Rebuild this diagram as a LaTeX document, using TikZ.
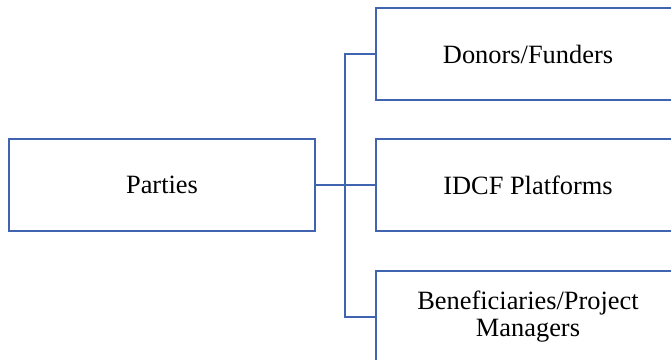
\documentclass[tikz,border=0pt]{standalone}
\usepackage{fontspec}
\setmainfont{Liberation Serif}
\definecolor{boxblue}{RGB}{64,100,176}
\begin{document}
\begin{tikzpicture}[x=1pt,y=-1pt,
  box/.style={draw=boxblue,line width=2.2pt,minimum width=304pt,minimum height=92pt,
    inner sep=0pt,align=center,font=\fontsize{26.4}{27}\selectfont,text=black},
  conn/.style={draw=boxblue,line width=2.2pt}]
\useasboundingbox (0,0) rectangle (671,359);
\node[box,minimum width=306pt] (p) at (162,185) {Parties};
\node[box] (d) at (528,54) {Donors/Funders};
\node[box] (i) at (528,185) {IDCF Platforms};
\node[box] (b) at (528,317) {Beneficiaries/Project\\Managers};
\coordinate (j) at (345,185);
\draw[conn] (p.east) -- (j) -- (i.west);
\draw[conn] (d.west) -| (j) |- (b.west);
\end{tikzpicture}
\end{document}
